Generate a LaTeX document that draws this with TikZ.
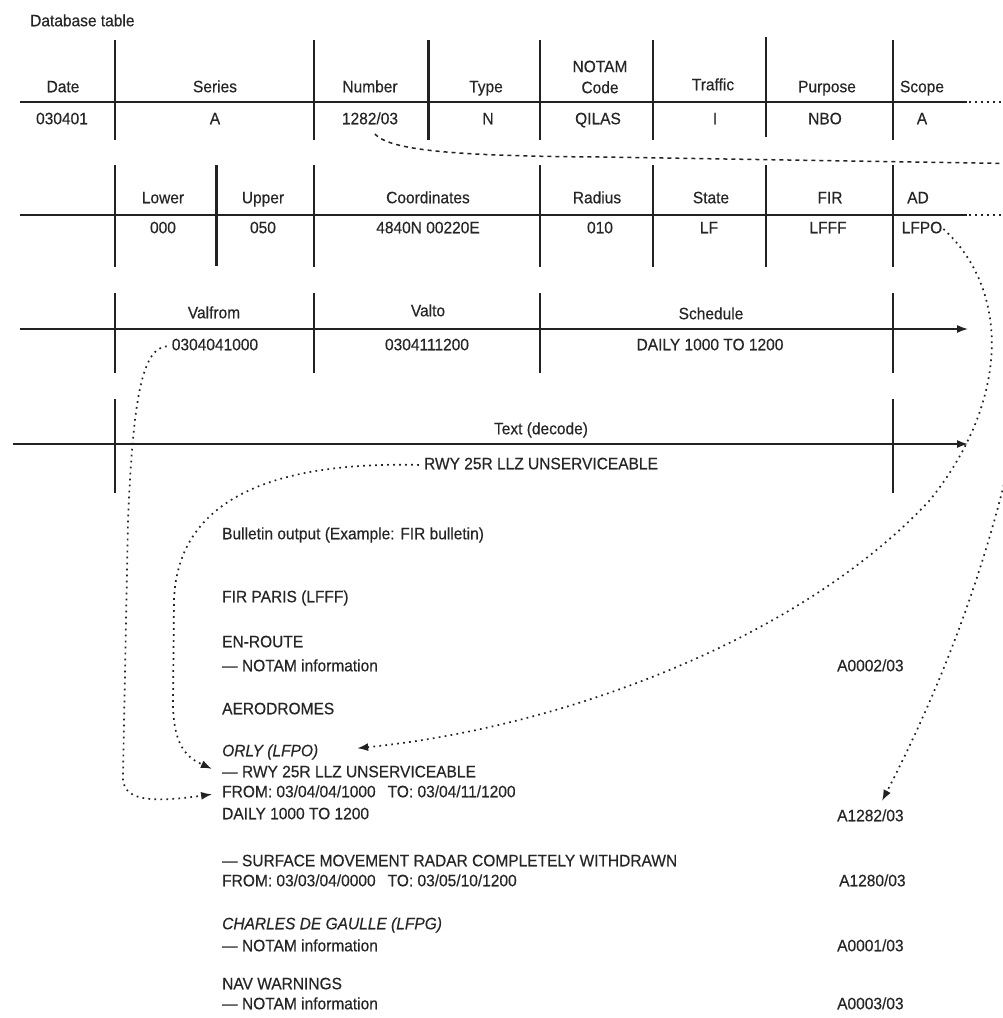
\documentclass[tikz,border=0pt]{standalone}
\usepackage{fontspec}
\setmainfont{Liberation Sans}[FakeStretch=0.94,FakeBold=0.35]
\usetikzlibrary{arrows.meta,calc}
\definecolor{ink}{HTML}{222222}
\definecolor{txt}{HTML}{262626}
\begin{document}
\begin{tikzpicture}[x=1pt,y=-1pt,
  lbl/.style={inner sep=1pt,text=txt,font=\fontsize{16.5}{21}\selectfont,text height=12pt,text depth=3.5pt},
  blt/.style={lbl,anchor=west},
  rulethin/.style={draw=ink,line width=1.4pt},
  rulethick/.style={draw=ink,line width=3pt},
  dotline/.style={draw=ink,line width=1.7pt,dash pattern=on 1.7pt off 4.3pt},
  dashline/.style={draw=ink,line width=1.5pt,dash pattern=on 4pt off 4pt},
  tip/.style={-{Latex[length=11pt,width=8pt]}}
]
\useasboundingbox (0,0) rectangle (1003,1018);
\clip (0,0) rectangle (1003,1018);
\fill[white] (0,0) rectangle (1003,1018);

% ---------- title
\node[blt] (title) at (29,22) {Database table};

% ---------- row 1
\draw[draw=ink,line width=1.8pt] (20,102) -- (967,102);
\foreach \x in {115,314,540,653,893} \draw[rulethin] (\x,40) -- (\x,140);
\draw[rulethin] (766,37) -- (766,137);
\draw[rulethick] (428,40) -- (428,140);
\draw[dotline] (969,102) -- (1010,102);

\node[lbl] (hdate)  at (63,88)  {Date};
\node[lbl] (hser)   at (215,88) {Series};
\node[lbl] (hnum)   at (370,88) {Number};
\node[lbl] (htype)  at (486,88) {Type};
\node[lbl,align=center,text height=,text depth=] (hcode) at (600,77) {NOTAM\\Code};
\node[lbl] (htraf)  at (713,86) {Traffic};
\node[lbl] (hpurp)  at (827,88) {Purpose};
\node[lbl] (hscope) at (922,88) {Scope};

\node[lbl] (vdate)  at (62,120)  {030401};
\node[lbl] (vser)   at (215,120) {A};
\node[lbl] (vnum)   at (370,120) {1282/03};
\node[lbl] (vtype)  at (488,120) {N};
\node[lbl] (vcode)  at (598,120) {QILAS};
\node[lbl] (vtraf)  at (715,120) {I};
\node[lbl] (vpurp)  at (825,120) {NBO};
\node[lbl] (vscope) at (922,120) {A};

% ---------- row 2
\draw[draw=ink,line width=2.6pt] (20,215) -- (967,215);
\foreach \x in {115,314,540,653,766,893} \draw[rulethin] (\x,165) -- (\x,267);
\draw[rulethick] (216,165) -- (216,266);
\draw[dotline] (969,215) -- (1010,215);

\node[lbl] (hlow)   at (163,199) {Lower};
\node[lbl] (hup)    at (263,199) {Upper};
\node[lbl] (hcoord) at (428,199) {Coordinates};
\node[lbl] (hrad)   at (597,199) {Radius};
\node[lbl] (hstate) at (711,199) {State};
\node[lbl] (hfir)   at (830,199) {FIR};
\node[lbl] (had)    at (918,199) {AD};

\node[lbl] (vlow)   at (163,229) {000};
\node[lbl] (vup)    at (263,229) {050};
\node[lbl] (vcoord) at (428,229) {4840N 00220E};
\node[lbl] (vrad)   at (600,229) {010};
\node[lbl] (vstate) at (709,229) {LF};
\node[lbl] (vfir)   at (828,229) {LFFF};
\node[lbl] (vad)    at (922,229) {LFPO};

% ---------- row 3
\draw[draw=ink,line width=1.5pt,tip] (20,329) -- (968,329);
\foreach \x in {115,314,540,893} \draw[rulethin] (\x,293) -- (\x,373);

\node[lbl] (hvf)  at (214,314) {Valfrom};
\node[lbl] (hvt)  at (428,312) {Valto};
\node[lbl] (hsch) at (711,315) {Schedule};

\node[lbl] (vvf)  at (215,346) {0304041000};
\node[lbl] (vvt)  at (427,346) {0304111200};
\node[lbl] (vsch) at (710,346) {DAILY 1000 TO 1200};

% ---------- row 4
\draw[draw=ink,line width=1.5pt,tip] (13,444) -- (968,444);
\foreach \x in {115,893} \draw[rulethin] (\x,399) -- (\x,493);
\node[lbl] (htext) at (541,430) {Text (decode)};
\node[lbl] (vtext) at (541,465) {RWY 25R LLZ UNSERVICEABLE};

% ---------- bulletin
\node[blt] (bhead) at (221,535) {Bulletin output (Example: FIR bulletin)};
\node[blt] (bfir)  at (221,598) {FIR PARIS (LFFF)};
\node[blt] (benr)  at (221,643) {EN-ROUTE};
\node[blt] (bn1)   at (221,667) {— NOTAM information};
\node[blt] (baero) at (221,710) {AERODROMES};
\node[blt,font=\fontsize{16.5}{21}\selectfont\itshape] (borly) at (221,752) {ORLY (LFPO)};
\node[blt] (brwy)  at (221,773) {— RWY 25R LLZ UNSERVICEABLE};
\node[blt] (bfrom) at (221,793) {FROM: 03/04/04/1000\hspace{12pt}TO: 03/04/11/1200};
\node[blt] (bdaily) at (221,815) {DAILY 1000 TO 1200};
\node[blt] (bsmr)  at (221,862) {— SURFACE MOVEMENT RADAR COMPLETELY WITHDRAWN};
\node[blt] (bfrom2) at (221,882) {FROM: 03/03/04/0000\hspace{12pt}TO: 03/05/10/1200};
\node[blt,font=\fontsize{16.5}{21}\selectfont\itshape] (bcdg) at (221,925) {CHARLES DE GAULLE (LFPG)};
\node[blt] (bn2)   at (221,947) {— NOTAM information};
\node[blt] (bnav)  at (221,985) {NAV WARNINGS};
\node[blt] (bn3)   at (221,1005) {— NOTAM information};

\node[blt] (a0002) at (836,667) {A0002/03};
\node[blt] (a1282) at (836,817) {A1282/03};
\node[blt] (a1280) at (838,882) {A1280/03};
\node[blt] (a0001) at (836,947) {A0001/03};
\node[blt] (a0003) at (836,1005) {A0003/03};

% ---------- connectors
\coordinate (offR) at (1040,164);
\draw[dashline,shorten <=7pt] (vnum.south) .. controls (390,150) and (450,156) .. (600,157) -- (offR);
\draw[dotline,tip,shorten >=8pt] (offR) -- (1040,260) .. controls (1025,470) and (960,650) .. ([xshift=8pt]a1282.north);

\draw[dotline,tip,shorten >=38pt] (vad.east) .. controls (1010,290) and (1010,400) .. (930,500)
   .. controls (800,640) and (560,728) .. (borly.east);

\draw[dotline,tip,shorten >=9pt,shorten <=4pt] (vvf.west) .. controls (142,348) and (133,400) .. (128,520)
   -- (123,775) .. controls (121,801) and (150,803) .. (bfrom.west);

\draw[dotline,tip,shorten >=10pt,shorten <=4pt] (vtext.west) .. controls (290,462) and (178,490) .. (174,600)
   -- (173,705) .. controls (174,748) and (188,758) .. (brwy.west);
\end{tikzpicture}
\end{document}
